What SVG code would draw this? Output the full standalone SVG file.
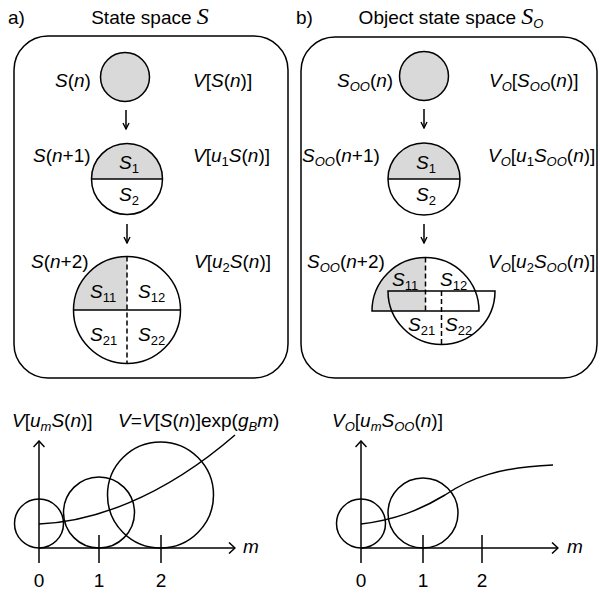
<svg xmlns="http://www.w3.org/2000/svg" width="600" height="595" viewBox="0 0 600 595">
<style>
text{font-family:"Liberation Sans",Arial,sans-serif;font-size:19px;fill:#000}
.i{font-style:italic}
.sub{font-size:13px}
.scr{font-family:"Liberation Serif","Times New Roman",serif;font-style:italic;font-size:24px}
.ln{fill:none;stroke:#000;stroke-width:1.5}
.gr{fill:#d9d9d9;stroke:none}
.ds{fill:none;stroke:#000;stroke-width:1.5;stroke-dasharray:5,3}
.ctr{text-anchor:middle}
</style>
<defs>
<marker id="ah" markerWidth="8" markerHeight="8" refX="7" refY="4" orient="auto" markerUnits="userSpaceOnUse" viewBox="0 0 8 8">
<path d="M1,1 L7,4 L1,7" fill="none" stroke="#000" stroke-width="1.4"/>
</marker>
<marker id="ax" markerWidth="12" markerHeight="12" refX="11" refY="6" orient="auto" markerUnits="userSpaceOnUse" viewBox="0 0 12 12">
<path d="M5,0.5 L11,6 L5,11.5" fill="none" stroke="#000" stroke-width="1.5"/>
</marker>
</defs>

<!-- Panel a -->
<g id="panel-a">
<text x="8" y="24">a)</text>
<text x="150" y="24" class="ctr">State space <tspan class="scr">S</tspan></text>
<rect x="14" y="36" width="274" height="342" rx="34" class="ln"/>
</g>
<g id="a-state-n">
<circle cx="125" cy="77" r="24.5" fill="#d9d9d9" stroke="#000" stroke-width="1.5"/>
<text x="55" y="87"><tspan class="i">S</tspan>(<tspan class="i">n</tspan>)</text>
<text x="193" y="87"><tspan class="i">V</tspan>[<tspan class="i">S</tspan>(<tspan class="i">n</tspan>)]</text>
</g>
<g id="a-state-n1">
<path d="M91.5,179 A35.5,35.5 0 0 1 162.5,179 Z" class="gr"/>
<circle cx="127" cy="179" r="35.5" class="ln"/>
<line x1="91.5" y1="179" x2="162.5" y2="179" class="ln"/>
<text x="119" y="169"><tspan class="i">S</tspan><tspan class="sub" dy="4">1</tspan></text>
<text x="119" y="201"><tspan class="i">S</tspan><tspan class="sub" dy="4">2</tspan></text>
<text x="33" y="162"><tspan class="i">S</tspan>(<tspan class="i">n</tspan>+1)</text>
<text x="193" y="162"><tspan class="i">V</tspan>[<tspan class="i">u</tspan><tspan class="sub" dy="4">1</tspan><tspan class="i" dy="-4">S</tspan>(<tspan class="i">n</tspan>)]</text>
</g>
<g id="a-state-n2">
<path d="M73.5,310 A53.5,53.5 0 0 1 127,256.5 L127,310 Z" class="gr"/>
<circle cx="127" cy="310" r="53.5" class="ln"/>
<line x1="73.5" y1="310" x2="180.5" y2="310" class="ln"/>
<line x1="127" y1="256.5" x2="127" y2="363.5" class="ds"/>
<text x="90" y="298"><tspan class="i">S</tspan><tspan class="sub" dy="4">11</tspan></text>
<text x="138" y="298"><tspan class="i">S</tspan><tspan class="sub" dy="4">12</tspan></text>
<text x="90" y="341"><tspan class="i">S</tspan><tspan class="sub" dy="4">21</tspan></text>
<text x="138" y="341"><tspan class="i">S</tspan><tspan class="sub" dy="4">22</tspan></text>
<text x="31" y="268"><tspan class="i">S</tspan>(<tspan class="i">n</tspan>+2)</text>
<text x="194" y="268"><tspan class="i">V</tspan>[<tspan class="i">u</tspan><tspan class="sub" dy="4">2</tspan><tspan class="i" dy="-4">S</tspan>(<tspan class="i">n</tspan>)]</text>
</g>

<!-- Panel b -->
<g id="panel-b">
<text x="296" y="24">b)</text>
<text x="451" y="24" class="ctr">Object state space <tspan class="scr">S</tspan><tspan class="sub i" dy="4">O</tspan></text>
<rect x="301" y="37" width="296" height="341" rx="34" class="ln"/>
</g>
<g id="b-state-n">
<circle cx="424" cy="76" r="24.5" fill="#d9d9d9" stroke="#000" stroke-width="1.5"/>
<text x="337" y="87"><tspan class="i">S</tspan><tspan class="sub i" dy="4">OO</tspan><tspan dy="-4">(</tspan><tspan class="i">n</tspan>)</text>
<text x="489" y="87"><tspan class="i">V</tspan><tspan class="sub i" dy="4">O</tspan><tspan dy="-4">[</tspan><tspan class="i">S</tspan><tspan class="sub i" dy="4">OO</tspan><tspan dy="-4">(</tspan><tspan class="i">n</tspan>)]</text>
</g>
<g id="b-state-n1">
<path d="M388,179 A36,36 0 0 1 460,179 Z" class="gr"/>
<circle cx="424" cy="179" r="36" class="ln"/>
<line x1="388" y1="179" x2="460" y2="179" class="ln"/>
<text x="416" y="169"><tspan class="i">S</tspan><tspan class="sub" dy="4">1</tspan></text>
<text x="416" y="201"><tspan class="i">S</tspan><tspan class="sub" dy="4">2</tspan></text>
<text x="302" y="162"><tspan class="i">S</tspan><tspan class="sub i" dy="4">OO</tspan><tspan dy="-4">(</tspan><tspan class="i">n</tspan>+1)</text>
<text x="488" y="162"><tspan class="i">V</tspan><tspan class="sub i" dy="4">O</tspan><tspan dy="-4">[</tspan><tspan class="i">u</tspan><tspan class="sub" dy="4">1</tspan><tspan class="i" dy="-4">S</tspan><tspan class="sub i" dy="4">OO</tspan><tspan dy="-4">(</tspan><tspan class="i">n</tspan>)]</text>
</g>
<g id="b-state-n2">
<path d="M372,311 A53.5,53.5 0 0 1 425.5,257.5 L425.5,311 Z" class="gr"/>
<path d="M372,311 A53.5,53.5 0 0 1 479,311 Z" class="ln"/>
<path d="M388,291 A53.5,53.5 0 0 0 495,291 Z" class="ln"/>
<line x1="425.5" y1="257.5" x2="425.5" y2="311" class="ds"/>
<line x1="441.5" y1="291" x2="441.5" y2="344.5" class="ds"/>
<text x="392" y="286"><tspan class="i">S</tspan><tspan class="sub" dy="4">11</tspan></text>
<text x="440" y="286"><tspan class="i">S</tspan><tspan class="sub" dy="4">12</tspan></text>
<text x="408" y="331"><tspan class="i">S</tspan><tspan class="sub" dy="4">21</tspan></text>
<text x="445" y="331"><tspan class="i">S</tspan><tspan class="sub" dy="4">22</tspan></text>
<text x="307" y="268"><tspan class="i">S</tspan><tspan class="sub i" dy="4">OO</tspan><tspan dy="-4">(</tspan><tspan class="i">n</tspan>+2)</text>
<text x="488" y="268"><tspan class="i">V</tspan><tspan class="sub i" dy="4">O</tspan><tspan dy="-4">[</tspan><tspan class="i">u</tspan><tspan class="sub" dy="4">2</tspan><tspan class="i" dy="-4">S</tspan><tspan class="sub i" dy="4">OO</tspan><tspan dy="-4">(</tspan><tspan class="i">n</tspan>)]</text>
</g>

<!-- Connectors -->
<g id="connectors">
<line x1="126" y1="110" x2="126" y2="129" class="ln" marker-end="url(#ah)"/>
<line x1="127" y1="224" x2="127" y2="243" class="ln" marker-end="url(#ah)"/>
<line x1="424" y1="109" x2="424" y2="128" class="ln" marker-end="url(#ah)"/>
<line x1="424" y1="224" x2="424" y2="243" class="ln" marker-end="url(#ah)"/>
</g>

<!-- Plot a -->
<g id="plot-a">
<line x1="39" y1="563" x2="39" y2="441" class="ln" marker-end="url(#ax)"/>
<line x1="39" y1="548" x2="235" y2="548" class="ln" marker-end="url(#ax)"/>
<line x1="99" y1="535" x2="99" y2="563" class="ln"/>
<line x1="161" y1="535" x2="161" y2="563" class="ln"/>
<circle cx="39" cy="523.5" r="24.5" class="ln"/>
<circle cx="99" cy="512.5" r="35.5" class="ln"/>
<circle cx="160.5" cy="495" r="53" class="ln"/>
<path d="M39,524 C90,522 160,500 235,435" class="ln"/>
<text x="39" y="587" class="ctr">0</text>
<text x="99" y="587" class="ctr">1</text>
<text x="161" y="587" class="ctr">2</text>
<text x="243" y="553" class="i">m</text>
<text x="12" y="427"><tspan class="i">V</tspan>[<tspan class="i">u</tspan><tspan class="sub i" dy="4">m</tspan><tspan class="i" dy="-4">S</tspan>(<tspan class="i">n</tspan>)]</text>
<text x="118" y="427"><tspan class="i">V</tspan>=<tspan class="i">V</tspan>[<tspan class="i">S</tspan>(<tspan class="i">n</tspan>)]exp(<tspan class="i">g</tspan><tspan class="sub i" dy="4">B</tspan><tspan class="i" dy="-4">m</tspan>)</text>
</g>

<!-- Plot b -->
<g id="plot-b">
<line x1="361" y1="563" x2="361" y2="441" class="ln" marker-end="url(#ax)"/>
<line x1="361" y1="548" x2="558" y2="548" class="ln" marker-end="url(#ax)"/>
<line x1="423" y1="535" x2="423" y2="563" class="ln"/>
<line x1="482" y1="535" x2="482" y2="563" class="ln"/>
<circle cx="361" cy="523.5" r="24.5" class="ln"/>
<circle cx="423" cy="513" r="35" class="ln"/>
<path d="M361,524 C395,520 420,510 445,495 C470,478 500,467 553,465" class="ln"/>
<text x="361" y="587" class="ctr">0</text>
<text x="423" y="587" class="ctr">1</text>
<text x="482" y="587" class="ctr">2</text>
<text x="567" y="553" class="i">m</text>
<text x="332" y="427"><tspan class="i">V</tspan><tspan class="sub i" dy="4">O</tspan><tspan dy="-4">[</tspan><tspan class="i">u</tspan><tspan class="sub i" dy="4">m</tspan><tspan class="i" dy="-4">S</tspan><tspan class="sub i" dy="4">OO</tspan><tspan dy="-4">(</tspan><tspan class="i">n</tspan>)]</text>
</g>
</svg>
